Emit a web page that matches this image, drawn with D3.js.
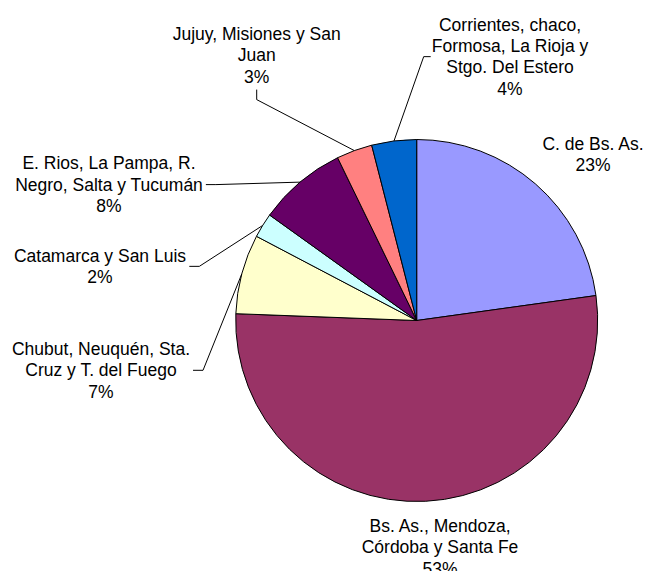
<!DOCTYPE html>
<html>
<head>
<meta charset="utf-8">
<script src="https://cdn.jsdelivr.net/npm/d3@7"></script>
<style>
  html, body { margin: 0; padding: 0; background: #fff; }
  svg { display: block; }
  .lbl { font-family: 'Liberation Sans', Arial, sans-serif; font-size: 17.5px; fill: #000; }
</style>
</head>
<body>
<script>
// slice order: clockwise from 12 o'clock
const categories = [
  ['C. de Bs. As.'],
  ['Bs. As., Mendoza,', 'Córdoba y Santa Fe'],
  ['Chubut, Neuquén, Sta.', 'Cruz y T. del Fuego'],
  ['Catamarca y San Luis'],
  ['E. Rios, La Pampa, R.', 'Negro, Salta y Tucumán'],
  ['Jujuy, Misiones y San', 'Juan'],
  ['Corrientes, chaco,', 'Formosa, La Rioja y', 'Stgo. Del Estero']
];
const values = [22.8, 52.8, 7.1, 2.2, 7.9, 3.2, 4.0];
const colors = ['#9999FF', '#993366', '#FFFFCC', '#CCFFFF', '#660066', '#FF8080', '#0066CC'];

// label layout: centre x, first baseline, leader side
const labelPos = [[593, 150], [440, 532], [101, 355], [100, 261.7], [109, 169.3], [256.7, 40], [510, 30.7]];
const leaderSide = [null, null, 'right', 'right', 'right', 'bottom', 'left'];

const W = 646, H = 571;
const CX = 416.7, CY = 320.5, R = 181;
const LH = 21.3;

const svg = d3.select('body').append('svg').attr('width', W).attr('height', H);

const arcs = d3.pie().sort(null).value(d => d)(values);
const arc = d3.arc().innerRadius(0).outerRadius(R);
const rim = d3.arc().innerRadius(R).outerRadius(R);
const total = d3.sum(values);
const pct = v => Math.round(v / total * 100) + '%';

const g = svg.append('g').attr('transform', `translate(${CX},${CY})`);
g.selectAll('path.slice')
  .data(arcs).join('path')
  .attr('class', 'slice')
  .attr('d', arc)
  .attr('fill', (d, i) => colors[i])
  .attr('stroke', '#000')
  .attr('stroke-width', 1)
  .attr('stroke-linejoin', 'round');

const labelG = svg.append('g');
const leaderG = svg.append('g');
const line = d3.line();

arcs.forEach((d, i) => {
  const [x, y] = labelPos[i];
  const lines = categories[i].concat([pct(values[i])]);
  const t = labelG.append('text')
    .attr('class', 'lbl')
    .attr('text-anchor', 'middle')
    .attr('x', x).attr('y', y);
  lines.forEach((s, k) => {
    t.append('tspan').attr('x', x).attr('y', y + k * LH).text(s);
  });

  const side = leaderSide[i];
  if (!side) return;
  const bb = t.node().getBBox();
  const [ex, ey] = rim.centroid(d);
  const end = [CX + ex, CY + ey];
  let start, elbow;
  if (side === 'right') {
    start = [bb.x + bb.width + 3, bb.y + bb.height / 2];
    elbow = [start[0] + 10, start[1]];
  } else if (side === 'left') {
    start = [bb.x - 1, bb.y + bb.height / 2];
    elbow = [start[0] - 7, start[1]];
  } else {
    start = [x, bb.y + bb.height + 3];
    elbow = [x, start[1] + 10];
  }
  leaderG.append('path')
    .attr('d', line([start, elbow, end]))
    .attr('fill', 'none')
    .attr('stroke', '#000')
    .attr('stroke-width', 1);
});
</script>
</body>
</html>
